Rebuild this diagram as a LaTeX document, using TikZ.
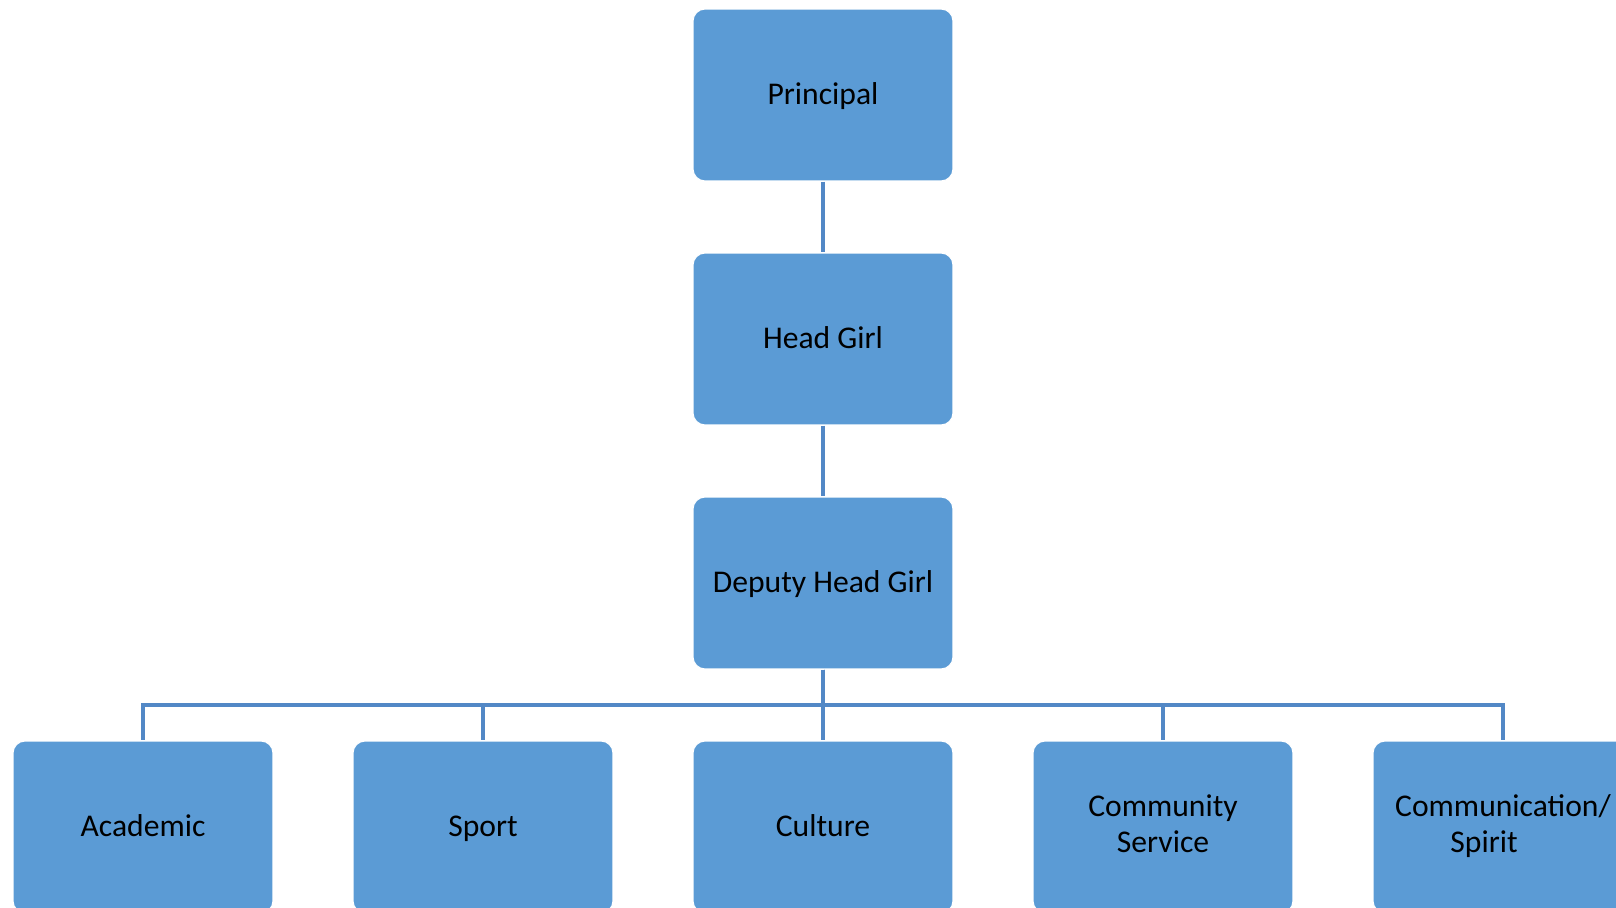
\documentclass[tikz,border=0pt]{standalone}
\usepackage{fontspec}
\setmainfont{Carlito}
\definecolor{boxblue}{RGB}{91,155,213}
\definecolor{lineblue}{RGB}{82,136,198}
\newcommand{\unitstrut}{\rule[-4.2pt]{0pt}{19.2pt}}
\tikzset{
  unit/.style={rectangle, rounded corners=0.24cm, fill=boxblue, draw=white, line width=0.6pt,
    minimum width=5.2cm, minimum height=3.44cm, inner sep=0pt, align=center,
    font=\fontsize{18}{20.3}\selectfont, text=black,
    execute at begin node=\unitstrut, execute at end node=\unitstrut},
  link/.style={draw=lineblue, line width=1.8pt}
}
\begin{document}
\begin{tikzpicture}[x=0.02cm,y=-0.02cm]
  \useasboundingbox (0,0) rectangle (1616,908);

  \node[unit] (principal) at (823,95) {Principal};
  \node[unit] (head) at (823,339) {Head Girl};
  \node[unit] (deputy) at (823,583) {Deputy Head Girl};

  \foreach \x/\name/\txt in {143/academic/Academic, 483/sport/Sport, 823/culture/Culture,
      1163/community/{Community\\Service}, 1503/spirit/{Communication/\\Spirit\hspace*{1.2em}}}
    \node[unit] (\name) at (\x,827) {\txt};

  \coordinate (bus) at (823,705);

  \draw[link] (principal) -- (head);
  \draw[link] (head) -- (deputy);
  \draw[link] (deputy) -- (culture);
  \foreach \name in {academic, sport, community, spirit}
    \draw[link] (deputy.south) -- (bus) -| (\name.north);

\end{tikzpicture}
\end{document}
